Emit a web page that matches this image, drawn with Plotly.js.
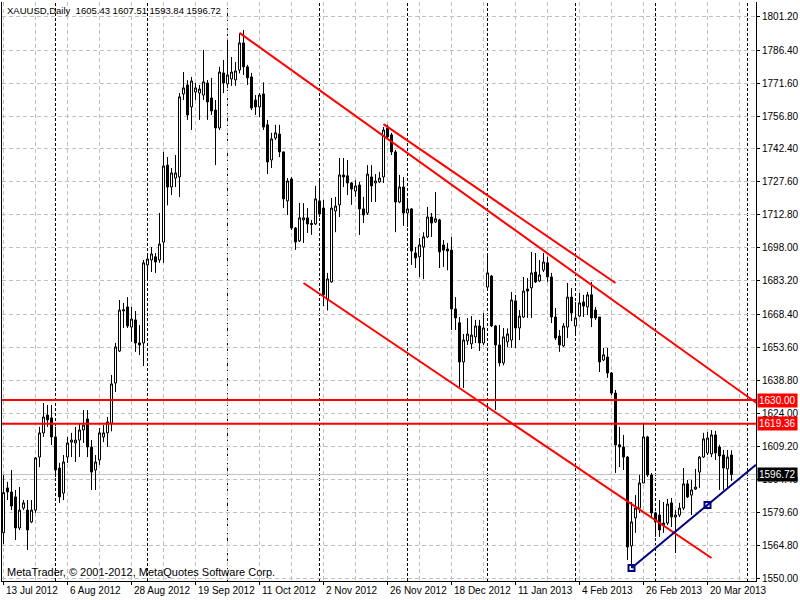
<!DOCTYPE html>
<html><head><meta charset="utf-8">
<script src="https://cdn.plot.ly/plotly-3.0.1.min.js"></script>
<style>html,body{margin:0;padding:0;background:#fff}#chart{width:800px;height:600px}</style>
</head><body><div id="chart"></div>
<script>
// ---- data (XAUUSD daily) ----
const opens = [1570.7,1590.7,1588.9,1586.7,1572.8,1581.7,1580.8,1575.5,1580.8,1604.5,
1615.3,1623.3,1622.0,1613.5,1599.6,1588.4,1604.5,1611.2,1610.8,1612.1,
1616.6,1621.5,1609.0,1598.7,1603.2,1613.5,1615.3,1619.7,1637.6,1651.9,
1669.8,1671.6,1662.6,1665.8,1655.5,1655.5,1690.4,1692.6,1694.0,1692.6,
1700.6,1735.0,1725.2,1729.2,1729.7,1766.8,1770.8,1761.0,1767.7,1767.2,
1766.3,1771.7,1765.0,1759.6,1751.6,1776.2,1771.3,1773.5,1773.1,1777.5,
1789.6,1778.9,1774.4,1764.1,1761.0,1766.8,1753.0,1737.3,1747.1,1748.9,
1740.9,1719.0,1728.8,1706.9,1701.1,1710.5,1711.4,1708.9,1708.7,1719.0,
1715.8,1675.1,1682.8,1714.5,1717.2,1730.6,1730.2,1727.0,1723.4,1726.1,
1715.4,1713.6,1729.7,1727.0,1727.5,1729.7,1751.6,1748.5,1740.9,1718.5,
1725.2,1713.6,1715.4,1695.7,1694.0,1698.4,1702.9,1711.8,1709.6,1710.5,
1699.3,1697.5,1697.0,1670.7,1664.5,1647.0,1656.4,1655.1,1658.2,1663.1,
1655.5,1680.5,1685.4,1663.1,1654.6,1646.6,1656.0,1656.8,1674.3,1662.2,
1667.1,1679.6,1680.1,1687.2,1683.2,1688.1,1691.3,1685.0,1667.1,1658.6,
1654.2,1662.6,1676.0,1663.1,1667.5,1673.8,1671.6,1677.0,1670.2,1667.1,
1647.9,1649.2,1642.1,1633.1,1610.0,1609.0,1604.5,1564.8,1577.3,1581.7,
1592.9,1613.5,1596.5,1579.5,1578.6,1575.0,1575.0,1584.0,1577.7,1578.6,
1581.7,1592.5,1587.5,1590.2,1597.8,1604.5,1606.3,1605.9,1614.4,1609.0,
1605.4,1599.2,1605.43];
const highs = [1596.5,1593.4,1598.7,1589.8,1591.1,1585.3,1585.3,1585.3,1604.5,1618.0,
1628.7,1627.8,1627.8,1618.0,1601.9,1605.4,1613.5,1615.3,1618.0,1619.7,
1625.5,1625.5,1612.1,1605.4,1617.5,1618.8,1622.4,1641.2,1655.5,1674.7,
1673.4,1676.0,1671.6,1669.8,1663.5,1692.6,1694.8,1698.4,1695.7,1713.6,
1740.9,1738.6,1733.7,1739.5,1767.2,1776.6,1773.0,1774.4,1771.7,1770.8,
1786.5,1773.0,1774.0,1764.1,1778.9,1782.0,1791.0,1783.3,1781.1,1794.0,
1795.4,1779.8,1776.2,1766.3,1767.2,1772.0,1755.2,1749.4,1753.0,1753.0,
1741.0,1729.2,1729.7,1707.3,1718.1,1718.0,1715.8,1710.5,1725.7,1728.0,
1719.4,1686.8,1720.3,1720.8,1738.2,1738.2,1737.3,1727.5,1728.4,1727.5,
1720.8,1735.0,1735.0,1731.0,1732.0,1752.0,1753.0,1749.4,1741.8,1730.6,
1729.7,1719.4,1715.8,1698.4,1702.4,1705.0,1716.3,1713.6,1723.0,1711.0,
1701.5,1700.2,1702.9,1676.0,1667.1,1659.5,1666.6,1667.5,1665.8,1665.8,
1668.9,1694.8,1685.9,1663.5,1663.5,1662.2,1662.0,1678.3,1677.0,1670.2,
1685.0,1684.5,1696.2,1695.7,1692.6,1695.7,1694.0,1686.8,1671.1,1661.3,
1664.4,1682.3,1680.0,1673.8,1677.8,1677.0,1678.3,1682.8,1671.6,1667.1,
1653.3,1653.3,1642.5,1634.5,1618.0,1614.4,1605.0,1584.4,1587.5,1596.5,
1619.7,1614.0,1597.4,1580.0,1585.3,1584.4,1585.8,1586.2,1580.8,1584.0,
1599.6,1594.3,1594.3,1599.2,1605.0,1615.3,1615.7,1616.6,1616.2,1610.0,
1607.7,1607.7,1607.51];
const lows = [1565.6,1585.3,1580.8,1567.4,1571.9,1580.8,1563.0,1575.0,1579.5,1600.0,
1613.5,1618.0,1609.9,1595.6,1584.0,1585.3,1601.9,1604.5,1602.3,1604.5,
1610.8,1604.5,1589.8,1589.8,1601.0,1611.2,1609.0,1616.0,1633.6,1651.5,
1662.2,1662.2,1656.0,1651.5,1650.1,1645.2,1683.7,1687.2,1686.8,1691.3,
1691.3,1717.0,1721.6,1725.2,1720.7,1764.1,1755.2,1750.7,1764.1,1755.2,
1764.1,1755.2,1757.4,1735.0,1750.7,1767.2,1769.5,1770.4,1770.4,1776.0,
1775.3,1770.8,1759.6,1757.4,1756.5,1750.7,1731.0,1733.7,1746.2,1738.6,
1715.8,1712.7,1706.0,1697.1,1700.6,1700.2,1704.7,1703.8,1708.2,1711.8,
1672.0,1670.0,1682.4,1705.0,1711.8,1725.2,1721.6,1717.2,1720.8,1703.8,
1709.1,1712.7,1718.5,1718.5,1727.0,1727.0,1746.7,1739.5,1705.0,1718.0,
1707.8,1707.3,1690.4,1689.0,1685.0,1684.0,1702.4,1702.9,1709.1,1689.0,
1689.5,1688.0,1661.3,1661.3,1635.8,1635.4,1654.6,1652.8,1655.5,1651.9,
1654.6,1680.1,1662.6,1625.5,1645.0,1645.5,1653.7,1653.3,1653.3,1656.8,
1666.7,1666.7,1666.7,1682.3,1682.8,1687.2,1682.8,1664.4,1656.8,1651.5,
1653.7,1657.7,1665.3,1659.5,1667.1,1667.1,1668.0,1662.6,1665.8,1642.5,
1647.4,1639.9,1632.2,1597.4,1600.0,1598.7,1558.5,1555.0,1570.6,1579.5,
1592.9,1595.6,1577.7,1568.8,1568.8,1570.6,1574.1,1573.2,1561.6,1577.7,
1580.8,1586.2,1578.6,1589.8,1590.7,1604.1,1605.4,1604.5,1603.2,1589.8,
1589.8,1590.7,1593.84];
const closes = [1588.6,1588.9,1582.6,1572.8,1580.8,1584.0,1571.9,1580.8,1604.1,1615.3,
1622.4,1621.1,1613.5,1598.7,1586.7,1602.3,1610.8,1612.1,1612.1,1616.6,
1618.8,1609.0,1597.8,1602.3,1615.3,1615.3,1620.2,1637.2,1653.7,1670.2,
1670.3,1663.1,1666.2,1655.5,1654.6,1691.3,1693.0,1695.3,1691.7,1699.7,
1734.6,1725.2,1731.5,1731.5,1765.5,1769.5,1757.4,1772.6,1769.5,1769.0,
1772.2,1763.2,1759.2,1751.6,1776.6,1771.7,1775.3,1776.6,1777.1,1789.6,
1778.9,1774.0,1760.5,1761.0,1766.3,1752.0,1736.4,1746.7,1749.4,1740.9,
1719.9,1727.9,1706.9,1700.6,1711.4,1711.4,1708.7,1708.5,1719.9,1713.2,
1677.0,1684.1,1715.8,1716.7,1730.6,1729.7,1727.0,1724.3,1725.7,1715.4,
1712.7,1731.0,1725.7,1727.9,1729.2,1750.7,1747.6,1740.9,1718.5,1725.2,
1713.6,1715.4,1696.6,1693.5,1699.3,1702.9,1711.8,1709.1,1711.0,1696.2,
1697.0,1696.6,1670.7,1666.7,1647.0,1656.8,1659.5,1659.0,1663.1,1655.5,
1662.2,1686.8,1663.1,1654.6,1646.6,1658.2,1659.5,1674.7,1662.2,1667.5,
1678.7,1678.7,1686.8,1682.8,1685.9,1691.7,1685.0,1667.1,1657.7,1654.6,
1663.1,1676.0,1668.9,1666.7,1673.4,1672.0,1677.0,1666.7,1666.7,1647.0,
1650.2,1642.1,1633.1,1609.9,1609.0,1604.5,1564.3,1575.5,1581.7,1592.9,
1613.5,1596.5,1579.5,1575.5,1571.9,1574.1,1583.5,1577.7,1578.6,1581.7,
1592.5,1586.7,1589.8,1591.1,1604.5,1612.6,1613.0,1614.4,1606.3,1605.0,
1599.6,1604.5,1596.72];

const dateLabels = ["13 Jul 2012","6 Aug 2012","28 Aug 2012","19 Sep 2012","11 Oct 2012","2 Nov 2012",
  "26 Nov 2012","18 Dec 2012","11 Jan 2013","4 Feb 2013","26 Feb 2013","20 Mar 2013"];
const dateLabelBars = [0,16,32,48,64,80,96,112,128,144,160,176];
const minorGridBars = [8,24,40,56,72,88,104,120,136,152,168,184];
const monthSeparatorBars = [13,36,56,79,101,121,143,163,186];
const priceTicks = [1550.00,1564.80,1579.60,1594.40,1609.20,1624.00,1638.80,1653.60,1668.40,
  1683.20,1698.00,1712.80,1727.60,1742.40,1756.80,1771.60,1786.40,1801.20];
const levelPrices = [1630.00, 1619.36];
const lastPrice = 1596.72;
const headerText = "XAUUSD,Daily  1605.43 1607.51 1593.84 1596.72";
const footerText = "MetaTrader, \u00a9 2001-2012, MetaQuotes Software Corp.";
// red trend lines: start bar/price, end bar/price
const trendStartBar = [59, 95, 75];
const trendStartPrice = [1794.1, 1753.3, 1682.3];
const trendEndBar = [189, 153, 177];
const trendEndPrice = [1627.7, 1682.3, 1559.4];
// blue support ray anchors
const rayBars = [157, 176];
const rayPrices = [1554.9, 1583.1];

// ---- build ----
const barIndex = opens.map((_, i) => i);
const xMin = -0.375, xMax = 188.125;
const FONT = 'Liberation Sans, Arial, sans-serif';

const traces = [
  {type: 'candlestick', x: barIndex, open: opens, high: highs, low: lows, close: closes,
   increasing: {line: {color: '#000000', width: 1}, fillcolor: '#ffffff'},
   decreasing: {line: {color: '#000000', width: 1}, fillcolor: '#000000'},
   whiskerwidth: 0, hoverinfo: 'skip', showlegend: false},
  {type: 'scatter', mode: 'markers', x: rayBars, y: rayPrices,
   marker: {symbol: 'square-open', size: 6, color: '#000080', line: {width: 2, color: '#000080'}},
   hoverinfo: 'skip', showlegend: false}
];

const shapes = [];
monthSeparatorBars.forEach(b => shapes.push({type: 'line', xref: 'x', yref: 'paper', x0: b, x1: b, y0: 0, y1: 1,
  line: {color: '#000000', width: 1, dash: '3px,2px'}, layer: 'between'}));
shapes.push({type: 'line', xref: 'paper', yref: 'y', x0: 0, x1: 1, y0: lastPrice, y1: lastPrice,
  line: {color: '#c0c0c0', width: 1}, layer: 'between'});
levelPrices.forEach(p => shapes.push({type: 'line', xref: 'paper', yref: 'y', x0: 0, x1: 1, y0: p, y1: p,
  line: {color: '#ff0000', width: 2}, layer: 'above'}));
trendStartBar.forEach((b, k) => shapes.push({type: 'line', xref: 'x', yref: 'y',
  x0: b, y0: trendStartPrice[k], x1: trendEndBar[k], y1: trendEndPrice[k],
  line: {color: '#ff0000', width: 2}, layer: 'above'}));
const raySlope = (rayPrices[1] - rayPrices[0]) / (rayBars[1] - rayBars[0]);
shapes.push({type: 'line', xref: 'x', yref: 'y', x0: rayBars[0], y0: rayPrices[0],
  x1: xMax, y1: rayPrices[0] + raySlope * (xMax - rayBars[0]),
  line: {color: '#000080', width: 2}, layer: 'above'});

const annotations = [];
dateLabels.forEach((t, k) => annotations.push({text: t, xref: 'x', yref: 'paper', x: dateLabelBars[k], y: 0,
  xanchor: 'left', yanchor: 'top', yshift: -2, showarrow: false, font: {family: FONT, size: 10, color: '#000'}}));
annotations.push({text: headerText, xref: 'paper', yref: 'paper', x: 0, y: 1, xanchor: 'left', yanchor: 'top',
  xshift: 3, yshift: -1, showarrow: false, font: {family: FONT, size: 9.5, color: '#000'}});
annotations.push({text: footerText, xref: 'paper', yref: 'paper', x: 0, y: 0, xanchor: 'left', yanchor: 'bottom',
  xshift: 3, yshift: 1, showarrow: false, font: {family: FONT, size: 11, color: '#000'}});
levelPrices.forEach(p => annotations.push({text: p.toFixed(2), xref: 'paper', yref: 'y', x: 1, y: p,
  xanchor: 'left', yanchor: 'middle', xshift: 1, showarrow: false, bgcolor: '#ff0000', borderpad: 1,
  font: {family: FONT, size: 10, color: '#ffffff'}}));
annotations.push({text: lastPrice.toFixed(2), xref: 'paper', yref: 'y', x: 1, y: lastPrice,
  xanchor: 'left', yanchor: 'middle', xshift: 1, showarrow: false, bgcolor: '#000000', borderpad: 1,
  font: {family: FONT, size: 10, color: '#ffffff'}});

const layout = {
  width: 800, height: 600,
  margin: {l: 2, r: 44, t: 2, b: 19, pad: 0},
  paper_bgcolor: '#ffffff', plot_bgcolor: '#ffffff',
  showlegend: false,
  boxgap: 0.5, boxgroupgap: 0,
  font: {family: FONT, size: 10, color: '#000'},
  xaxis: {
    range: [xMin, xMax], rangeslider: {visible: false}, fixedrange: true,
    tickmode: 'array', tickvals: dateLabelBars, showticklabels: false,
    ticks: 'outside', ticklen: 3, tickcolor: '#000', tickwidth: 1,
    showgrid: true, gridcolor: '#c0c0c0', gridwidth: 1, griddash: '4px,3px',
    minor: {tickmode: 'array', tickvals: minorGridBars, showgrid: true, gridcolor: '#c0c0c0', griddash: '4px,3px', ticks: ''},
    showline: true, linecolor: '#000', linewidth: 1, zeroline: false
  },
  yaxis: {
    side: 'right', range: [1549.1, 1807.9], fixedrange: true,
    tickmode: 'array', tickvals: priceTicks, ticktext: priceTicks.map(v => v.toFixed(2)),
    ticks: 'outside', ticklen: 3, tickcolor: '#000', tickwidth: 1,
    tickfont: {family: FONT, size: 10, color: '#000'},
    showgrid: true, gridcolor: '#c0c0c0', gridwidth: 1, griddash: '4px,3px',
    showline: true, mirror: true, linecolor: '#000', linewidth: 1, zeroline: false
  },
  shapes: shapes,
  annotations: annotations
};

Plotly.newPlot('chart', traces, layout, {staticPlot: true, displayModeBar: false});
</script>
</body></html>
